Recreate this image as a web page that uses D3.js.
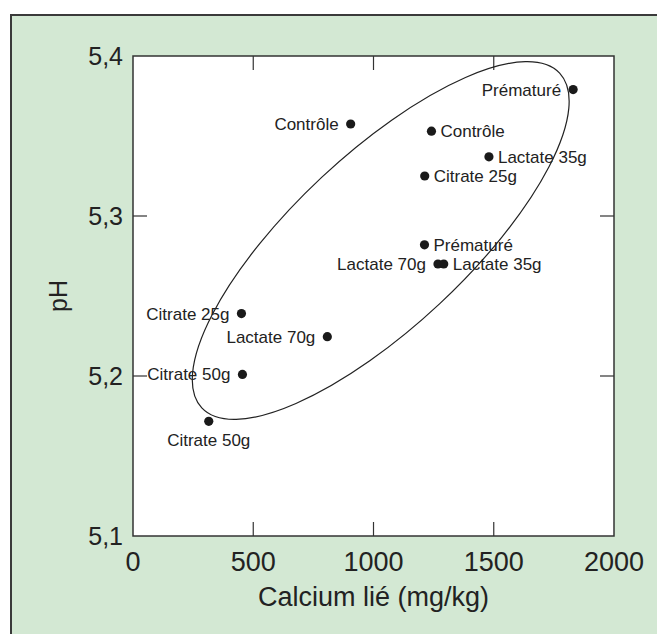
<!DOCTYPE html>
<html>
<head>
<meta charset="utf-8">
<script src="https://cdn.jsdelivr.net/npm/d3@7"></script>
<style>
    body { margin: 0; background: #fff; }
    #chart { width: 657px; height: 634px; }
    text { font-family: "Liberation Sans", Arial, sans-serif; fill: #222; }
</style>
</head>
<body>
<div id="chart"></div>
<script>
// values
const labels = ["Prématuré", "Contrôle", "Contrôle", "Lactate 35g", "Citrate 25g", "Prématuré",
    "Lactate 70g", "Lactate 35g", "Citrate 25g", "Lactate 70g", "Citrate 50g", "Citrate 50g"];
const calcium = [1830, 905, 1241, 1480, 1213, 1212, 1268, 1292, 451, 808, 455, 315];
const ph = [5.379, 5.3575, 5.353, 5.337, 5.325, 5.282, 5.27, 5.27, 5.239, 5.2246, 5.201, 5.1717];
const labelSide = ["left", "left", "right", "right", "right", "right",
    "left", "right", "left", "left", "left", "below"];

const xTicks = [0, 500, 1000, 1500, 2000];
const yTicks = [5.1, 5.2, 5.3, 5.4];

// ellipse drawn round the group: centre, end of the long axis, short/long ratio
const ellipseCentre = [1030, 5.2847];
const ellipseTip = [1774, 5.3893];
const ellipseRatio = 0.353;

ScatterChart = function(_parentElement) {
    this.parentElement = _parentElement;

    this.initVis();
};

ScatterChart.prototype.initVis = function() {
    var vis = this;

    vis.width = 657;
    vis.height = 634;
    vis.margin = { top: 56, right: 43, bottom: 98, left: 133 };

    vis.innerWidth = vis.width - vis.margin.left - vis.margin.right;
    vis.innerHeight = vis.height - vis.margin.top - vis.margin.bottom;

    vis.svg = d3.select("#" + vis.parentElement)
        .append("svg")
        .attr("width", vis.width)
        .attr("height", vis.height);

    // green panel, runs off the right and bottom of the picture
    vis.svg.append("rect")
        .attr("x", 11)
        .attr("y", 15)
        .attr("width", vis.width + 20)
        .attr("height", vis.height + 20)
        .attr("fill", "#d3e8d3")
        .attr("stroke", "#3a3a3a")
        .attr("stroke-width", 2);

    vis.chart = vis.svg.append("g")
        .attr("transform", `translate(${vis.margin.left},${vis.margin.top})`);

    vis.chart.append("rect")
        .attr("width", vis.innerWidth)
        .attr("height", vis.innerHeight)
        .attr("fill", "#fff")
        .attr("stroke", "#333")
        .attr("stroke-width", 1.5);

    vis.x = d3.scaleLinear()
        .domain([0, 2000])
        .range([0, vis.innerWidth]);

    vis.y = d3.scaleLinear()
        .domain([5.1, 5.4])
        .range([vis.innerHeight, 0]);

    // inner ticks on all four sides, labels drawn separately
    const tickLen = 14;
    const inner = v => v > vis.x.domain()[0] && v < vis.x.domain()[1];
    const innerY = v => v > vis.y.domain()[0] && v < vis.y.domain()[1];

    [["bottom", vis.innerHeight, -tickLen], ["top", 0, tickLen]].forEach(function(s) {
        vis.chart.selectAll(".xtick-" + s[0])
            .data(xTicks.filter(inner))
            .enter()
            .append("line")
            .attr("x1", d => vis.x(d))
            .attr("x2", d => vis.x(d))
            .attr("y1", s[1])
            .attr("y2", s[1] + s[2])
            .attr("stroke", "#333")
            .attr("stroke-width", 1.2);
    });

    [["left", 0, tickLen], ["right", vis.innerWidth, -tickLen]].forEach(function(s) {
        vis.chart.selectAll(".ytick-" + s[0])
            .data(yTicks.filter(innerY))
            .enter()
            .append("line")
            .attr("y1", d => vis.y(d))
            .attr("y2", d => vis.y(d))
            .attr("x1", s[1])
            .attr("x2", s[1] + s[2])
            .attr("stroke", "#333")
            .attr("stroke-width", 1.2);
    });

    vis.chart.selectAll(".xlabel")
        .data(xTicks)
        .enter()
        .append("text")
        .attr("x", d => vis.x(d))
        .attr("y", vis.innerHeight + 35)
        .attr("text-anchor", "middle")
        .attr("font-size", "27px")
        .text(d => d);

    vis.chart.selectAll(".ylabel")
        .data(yTicks)
        .enter()
        .append("text")
        .attr("x", -10)
        .attr("y", d => vis.y(d))
        .attr("dy", "0.36em")
        .attr("text-anchor", "end")
        .attr("font-size", "25px")
        .text(d => d3.format(".1f")(d).replace(".", ","));

    // axis titles
    vis.chart.append("text")
        .attr("x", vis.innerWidth / 2)
        .attr("y", vis.innerHeight + 70)
        .attr("text-anchor", "middle")
        .attr("font-size", "27px")
        .text("Calcium lié (mg/kg)");

    vis.chart.append("text")
        .attr("transform", `translate(${-66},${vis.innerHeight / 2}) rotate(-90)`)
        .attr("text-anchor", "middle")
        .attr("font-size", "25px")
        .text("pH");
};

ScatterChart.prototype.updateVis = function(data) {
    var vis = this;

    // ellipse
    const cx = vis.x(ellipseCentre[0]);
    const cy = vis.y(ellipseCentre[1]);
    const dx = vis.x(ellipseTip[0]) - cx;
    const dy = vis.y(ellipseTip[1]) - cy;
    const rx = Math.sqrt(dx * dx + dy * dy);

    vis.chart.append("ellipse")
        .attr("cx", 0)
        .attr("cy", 0)
        .attr("rx", rx)
        .attr("ry", rx * ellipseRatio)
        .attr("transform", `translate(${cx},${cy}) rotate(${Math.atan2(dy, dx) * 180 / Math.PI})`)
        .attr("fill", "none")
        .attr("stroke", "#222")
        .attr("stroke-width", 1.2);

    // dots
    vis.chart.selectAll(".dot")
        .data(data)
        .enter()
        .append("circle")
        .attr("class", "dot")
        .attr("cx", d => vis.x(d.calcium))
        .attr("cy", d => vis.y(d.ph))
        .attr("r", 4.6)
        .attr("fill", "#1a1a1a");

    // labels
    vis.chart.selectAll(".label")
        .data(data)
        .enter()
        .append("text")
        .attr("class", "label")
        .attr("x", function(d) {
            if (d.side == "left") return vis.x(d.calcium) - 12;
            if (d.side == "right") return vis.x(d.calcium) + 9;
            return vis.x(d.calcium);
        })
        .attr("y", d => vis.y(d.ph) + (d.side == "below" ? 25 : 6))
        .attr("text-anchor", d => d.side == "left" ? "end" : (d.side == "right" ? "start" : "middle"))
        .attr("font-size", "17px")
        .text(d => d.label);
};

const data = labels.map((l, i) => ({ label: l, calcium: calcium[i], ph: ph[i], side: labelSide[i] }));

const chart = new ScatterChart("chart");
chart.updateVis(data);
</script>
</body>
</html>
